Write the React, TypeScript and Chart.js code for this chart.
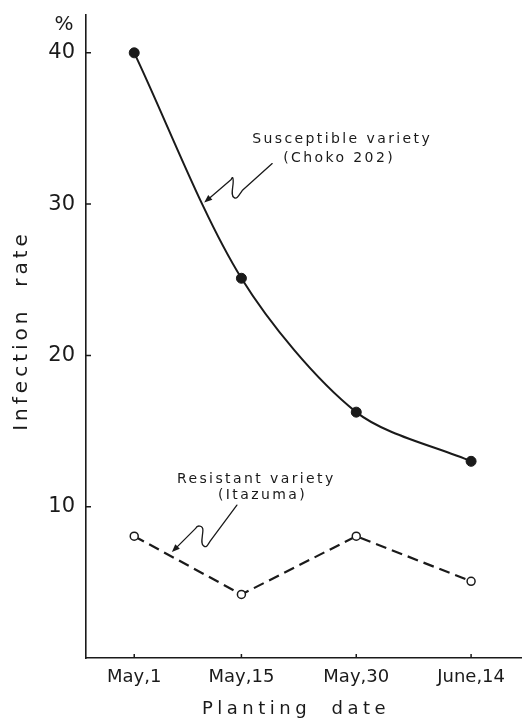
import { useEffect, useRef } from "react";
import { Chart, registerables } from "chart.js";

Chart.register(...registerables);

// ---- data ----
const CATEGORIES = ["May,1", "May,15", "May,30", "June,14"];
const DAYS = [0, 14, 29, 44]; // days after May 1
const SUSCEPTIBLE = [40, 25.1, 16.25, 13.0];
const RESISTANT = [8.05, 4.2, 8.05, 5.07];
const Y_TICKS = [10, 20, 30, 40];
const Y_MIN = 0;
const Y_MAX = 42.5;
const X_MIN = -6.3;
const X_MAX = 50.65;

const INK = "#1a1a1a";
const FONT = '"DejaVu Sans", "Liberation Sans", sans-serif';

type Note = {
  day: number;
  value: number;
  lines: { text: string; dx: number; dy: number }[];
  start: [number, number];
  turn: [number, number];
  bottom: [number, number];
  peak: [number, number];
};

const NOTES: Note[] = [
  {
    day: 9.14,
    value: 30.1,
    lines: [
      { text: "Susceptible variety", dx: 48, dy: -60 },
      { text: "(Choko 202)", dx: 79, dy: -41 },
    ],
    start: [68, -39],
    turn: [38, -12],
    bottom: [30, -5],
    peak: [29, -25],
  },
  {
    day: 4.92,
    value: 7.0,
    lines: [
      { text: "Resistant variety", dx: 5, dy: -69 },
      { text: "(Itazuma)", dx: 46, dy: -53 },
    ],
    start: [65, -47],
    turn: [39, -12],
    bottom: [32, -6],
    peak: [26, -26],
  },
];

const decor = {
  id: "decor",
  afterDraw(chart: any) {
    const { ctx, chartArea, scales } = chart;
    const xs = scales.x;
    const ys = scales.y;
    const { left, right, top, bottom } = chartArea;
    ctx.save();
    ctx.strokeStyle = INK;
    ctx.fillStyle = INK;
    ctx.lineWidth = 1.5;
    // inward ticks
    ctx.beginPath();
    Y_TICKS.forEach((v) => {
      const py = ys.getPixelForValue(v);
      ctx.moveTo(left, py);
      ctx.lineTo(left + 5, py);
    });
    DAYS.forEach((d) => {
      const px = xs.getPixelForValue(d);
      ctx.moveTo(px, bottom);
      ctx.lineTo(px, bottom - 4);
    });
    ctx.stroke();

    // % unit
    ctx.font = `20px ${FONT}`;
    ctx.textAlign = "center";
    ctx.textBaseline = "middle";
    ctx.fillText("%", left - 22, top + 10);

    // y title
    ctx.save();
    ctx.translate(left - 64, (top + bottom) / 2 - 6);
    ctx.rotate(-Math.PI / 2);
    ctx.font = `20px ${FONT}`;
    (ctx as any).letterSpacing = "4px";
    ctx.textAlign = "center";
    ctx.textBaseline = "middle";
    ctx.fillText("Infection  rate", 0, 0);
    ctx.restore();

    // x title
    ctx.save();
    ctx.font = `18px ${FONT}`;
    (ctx as any).letterSpacing = "4.5px";
    ctx.textAlign = "center";
    ctx.textBaseline = "alphabetic";
    ctx.fillText("Planting  date", (left + right) / 2 - 8, chart.height - 4);
    ctx.restore();

    // annotations
    NOTES.forEach((n) => {
      const ax = xs.getPixelForValue(n.day);
      const ay = ys.getPixelForValue(n.value);
      ctx.save();
      ctx.font = `14px ${FONT}`;
      (ctx as any).letterSpacing = "2.4px";
      ctx.textAlign = "left";
      ctx.textBaseline = "alphabetic";
      n.lines.forEach((l) => ctx.fillText(l.text, ax + l.dx, ay + l.dy));
      ctx.restore();

      const P = (p: [number, number]) => [ax + p[0], ay + p[1]] as const;
      const s = P(n.start);
      const t = P(n.turn);
      const b = P(n.bottom);
      const k = P(n.peak);
      ctx.save();
      ctx.lineWidth = 1.3;
      ctx.lineCap = "round";
      ctx.lineJoin = "round";
      ctx.beginPath();
      ctx.moveTo(s[0], s[1]);
      ctx.lineTo(t[0], t[1]);
      ctx.bezierCurveTo(t[0] - 3, t[1] + 4, b[0] + 3, b[1] + 2, b[0], b[1]);
      ctx.bezierCurveTo(b[0] - 4, b[1] - 2, b[0] - 1, k[1] + 10, b[0] - 1, k[1] + 4);
      ctx.bezierCurveTo(b[0] - 1, k[1] - 1, k[0] - 1, k[1] - 1, k[0] - 2, k[1] + 2);
      const dx = -(k[0] - 2 - ax);
      const dy = -(k[1] + 2 - ay);
      const len = Math.hypot(dx, dy);
      const ux = dx / len;
      const uy = dy / len;
      ctx.lineTo(ax - ux * 6, ay - uy * 6);
      ctx.stroke();
      // arrowhead
      ctx.beginPath();
      ctx.moveTo(ax, ay);
      ctx.lineTo(ax - ux * 8 - uy * 3.2, ay - uy * 8 + ux * 3.2);
      ctx.lineTo(ax - ux * 8 + uy * 3.2, ay - uy * 8 - ux * 3.2);
      ctx.closePath();
      ctx.fill();
      ctx.restore();
    });
    ctx.restore();
  },
};

export default function App() {
  const ref = useRef<HTMLCanvasElement | null>(null);

  useEffect(() => {
    if (!ref.current) return;
    const chart = new Chart(ref.current, {
      type: "line",
      data: {
        datasets: [
          {
            label: "Susceptible variety (Choko 202)",
            data: DAYS.map((d, i) => ({ x: d, y: SUSCEPTIBLE[i] })),
            borderColor: INK,
            borderWidth: 2,
            tension: 0.3,
            pointRadius: 5,
            pointBackgroundColor: INK,
            pointBorderColor: INK,
            pointBorderWidth: 1,
          },
          {
            label: "Resistant variety (Itazuma)",
            data: DAYS.map((d, i) => ({ x: d, y: RESISTANT[i] })),
            borderColor: INK,
            borderWidth: 2.2,
            borderDash: [11, 6],
            tension: 0,
            pointRadius: 4,
            pointBackgroundColor: "#ffffff",
            pointBorderColor: INK,
            pointBorderWidth: 1.5,
          },
        ],
      } as any,
      options: {
        animation: false,
        responsive: false,
        layout: { autoPadding: false, padding: { top: 15, left: 0, right: 0, bottom: 0 } },
        plugins: {
          legend: { display: false },
          tooltip: { enabled: false },
        },
        scales: {
          x: {
            type: "linear",
            min: X_MIN,
            max: X_MAX,
            afterBuildTicks: (s: any) => {
              s.ticks = DAYS.map((v) => ({ value: v }));
            },
            afterFit: (s: any) => {
              s.height = 60;
              s.paddingLeft = 0;
              s.paddingRight = 0;
            },
            ticks: {
              callback: (_v: any, i: number) => CATEGORIES[i] ?? "",
              font: { family: FONT, size: 18 },
              color: INK,
              padding: 9,
              maxRotation: 0,
              autoSkip: false,
            },
            grid: { display: true, drawOnChartArea: false, drawTicks: false },
            border: { display: true, color: INK, width: 1.6 },
          },
          y: {
            type: "linear",
            min: Y_MIN,
            max: Y_MAX,
            afterBuildTicks: (s: any) => {
              s.ticks = Y_TICKS.map((v) => ({ value: v }));
            },
            afterFit: (s: any) => {
              s.width = 86;
              s.paddingTop = 0;
              s.paddingBottom = 0;
            },
            ticks: {
              callback: (v: any) => String(v),
              font: { family: FONT, size: 21 },
              color: INK,
              padding: 11,
            },
            grid: { display: true, drawOnChartArea: false, drawTicks: false },
            border: { display: true, color: INK, width: 1.6 },
          },
        },
      } as any,
      plugins: [decor],
    });
    return () => chart.destroy();
  }, []);

  return (
    <div style={{ position: "absolute", left: 0, top: 0, width: 522, height: 718 }}>
      <canvas ref={ref} width={522} height={718} style={{ display: "block" }} />
    </div>
  );
}
